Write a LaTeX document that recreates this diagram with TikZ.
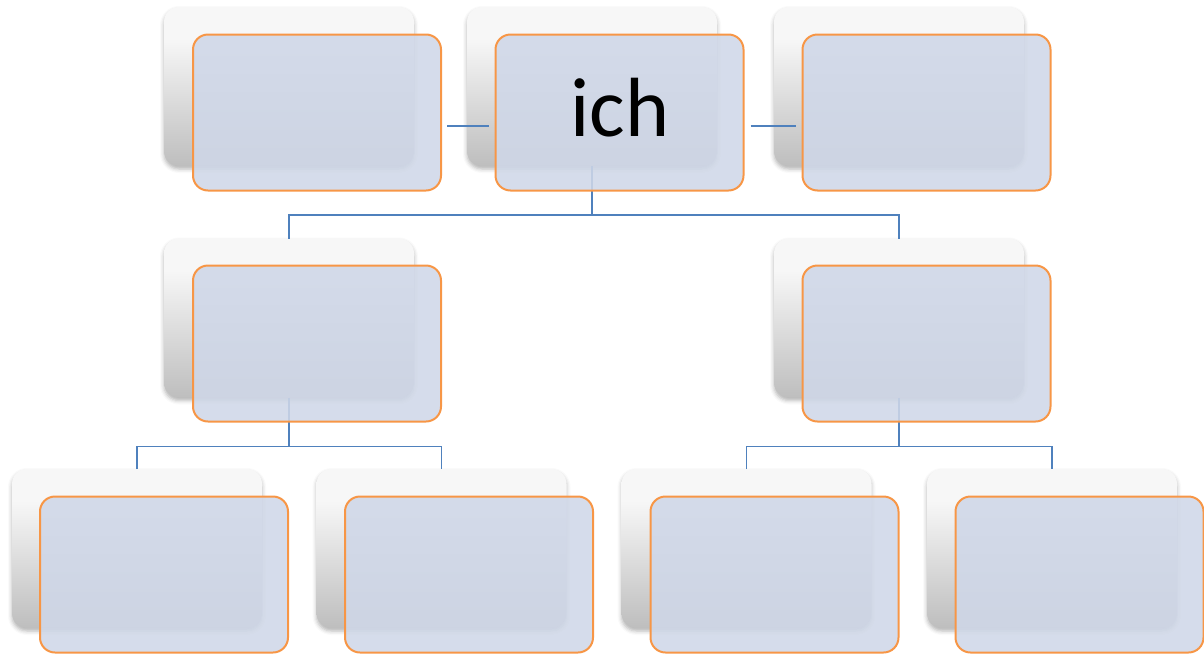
\documentclass[tikz,border=0pt]{standalone}
\usepackage{fontspec}
\setmainfont{Carlito}
\usetikzlibrary{calc,shadows.blur}
\definecolor{orangeedge}{HTML}{F79646}
\definecolor{frontfill}{RGB}{207,215,232}
\definecolor{linkblue}{HTML}{4F81BD}
\definecolor{bgtop}{HTML}{F7F7F7}
\definecolor{bgbot}{HTML}{BEBEBE}
\pgfdeclareverticalshading{backgrad}{100bp}{color(0bp)=(bgbot); color(25bp)=(bgbot); color(65bp)=(bgtop); color(100bp)=(bgtop)}
\pgfdeclarelayer{behind}
\pgfsetlayers{behind,main}
\tikzset{
  backbox/.style={shade, shading=backgrad, rounded corners=15pt, minimum width=250pt, minimum height=159pt, inner sep=0pt, outer sep=0pt,
    blur shadow={shadow xshift=0pt, shadow yshift=-3pt, shadow opacity=30, shadow blur radius=4pt}},
  frontbox/.style={draw=orangeedge, line width=2pt, fill=frontfill, fill opacity=0.88, rounded corners=15pt, minimum width=248pt, minimum height=156pt, inner sep=0pt},
  link/.style={draw=linkblue, line width=1.8pt},
  bigtext/.style={font=\fontsize{84}{84}\selectfont, inner sep=0pt, text=black}
}
\begin{document}
\begin{tikzpicture}[x=1pt,y=-1pt]
\useasboundingbox (0,0) rectangle (1204,654);
% front boxes
\node[frontbox] (f1) at (317,112.5) {};
\node[frontbox] (f0) at (619.5,112.5) {};
\node[frontbox] (f2) at (926.5,112.5) {};
\node[frontbox] (f3) at (317,343.5) {};
\node[frontbox] (f4) at (926.5,343.5) {};
\node[frontbox] (f5) at (164,574.5) {};
\node[frontbox] (f6) at (469,574.5) {};
\node[frontbox] (f7) at (774.5,574.5) {};
\node[frontbox] (f8) at (1079.5,574.5) {};
\node[bigtext, anchor=base] (ich) at ($(f0.center)+(0.5,23.5)$) {ich};
\begin{pgfonlayer}{behind}
% back boxes
\node[backbox] (b1) at (289,86.5) {};
\node[backbox] (b0) at (592,86.5) {};
\node[backbox] (b2) at (899,86.5) {};
\node[backbox] (b3) at (289,318) {};
\node[backbox] (b4) at (899,318) {};
\node[backbox] (b5) at (137,548.5) {};
\node[backbox] (b6) at (441.5,548.5) {};
\node[backbox] (b7) at (746.5,548.5) {};
\node[backbox] (b8) at (1052,548.5) {};
% connectors
\coordinate (hy) at (0,126);
\coordinate (bus1) at (0,215);
\coordinate (bus2) at (0,446.5);
\draw[link, shorten <=5pt, shorten >=6pt] (f1.east |- hy) -- (f0.west |- hy);
\draw[link, shorten <=6pt, shorten >=6pt] (f0.east |- hy) -- (f2.west |- hy);
\draw[link] (b0.south) -- (b0.south |- bus1);
\draw[link] (b3.north) -- (b3.north |- bus1) -- (b4.north |- bus1) -- (b4.north);
\draw[link] (b3.south) -- (b3.south |- bus2);
\draw[link] (b5.north) -- (b5.north |- bus2) -- (b6.north |- bus2) -- (b6.north);
\draw[link] (b4.south) -- (b4.south |- bus2);
\draw[link] (b7.north) -- (b7.north |- bus2) -- (b8.north |- bus2) -- (b8.north);
\end{pgfonlayer}
\end{tikzpicture}
\end{document}
